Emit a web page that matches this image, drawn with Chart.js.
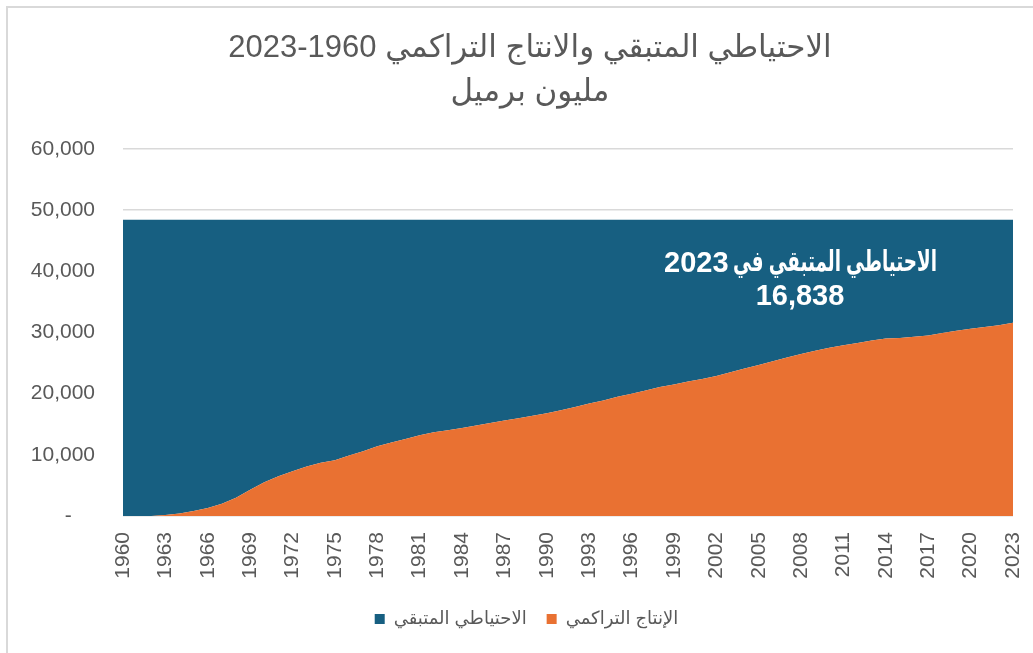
<!DOCTYPE html>
<html>
<head>
<meta charset="utf-8">
<script src="https://cdn.jsdelivr.net/npm/chart.js@4.4.1/dist/chart.umd.min.js"></script>
<style>
  html, body { margin: 0; padding: 0; background: #fff; }
</style>
</head>
<body>
<canvas id="areachart" width="1033" height="653"></canvas>
<script>
const years = [];
for (let y = 1960; y <= 2023; y++) years.push(String(y));

// الإنتاج التراكمي (مليون برميل)
const cumulative = [
  0, 0, 0, 150, 400, 800, 1300, 2000, 3000, 4300,
  5500, 6500, 7300, 8100, 8700, 9100, 9900, 10600, 11400, 12000,
  12600, 13200, 13700, 14000, 14400, 14800, 15200, 15600, 16000, 16400,
  16800, 17300, 17800, 18400, 18900, 19500, 20000, 20500, 21100, 21500,
  22000, 22400, 22900, 23500, 24100, 24700, 25300, 25900, 26500, 27000,
  27500, 27900, 28300, 28700, 29000, 29100, 29300, 29500, 29900, 30300,
  30600, 30900, 31200, 31612
];

// الاحتياطي المتبقي (مليون برميل)
const remaining = [
  48450, 48450, 48450, 48300, 48050, 47650, 47150, 46450, 45450, 44150,
  42950, 41950, 41150, 40350, 39750, 39350, 38550, 37850, 37050, 36450,
  35850, 35250, 34750, 34450, 34050, 33650, 33250, 32850, 32450, 32050,
  31650, 31150, 30650, 30050, 29550, 28950, 28450, 27950, 27350, 26950,
  26450, 26050, 25550, 24950, 24350, 23750, 23150, 22550, 21950, 21450,
  20950, 20550, 20150, 19750, 19450, 19350, 19150, 18950, 18550, 18150,
  17850, 17550, 17250, 16838
];

const titleLines = ['الاحتياطي المتبقي والانتاج التراكمي 1960-2023', 'مليون برميل'];
const noteWords = 'الاحتياطي المتبقي في';
const noteYear = '2023';
const noteValue = '16,838';

const blue = '#175F81';
const orange = '#E97132';
const gray = '#595959';
const font = "'Liberation Sans', Arial, 'DejaVu Sans', sans-serif";

Chart.defaults.font.family = font;
Chart.defaults.color = gray;

// frame, title and the note inside the blue area
const decor = {
    id: 'decor',
    afterLayout(chart) {
        // legend sits a bit right of the canvas centre, as in the original
        chart.legend.left += 20;
        chart.legend.right += 20;
    },
    beforeDraw(chart) {
        const c = chart.ctx;
        c.save();
        c.fillStyle = '#fff';
        c.fillRect(0, 0, chart.width, chart.height);
        c.strokeStyle = '#d9d9d9';
        c.lineWidth = 2;
        c.beginPath();
        c.moveTo(7, chart.height);
        c.lineTo(7, 7);
        c.lineTo(chart.width, 7);
        c.stroke();
        c.restore();
    },
    afterDraw(chart) {
        const c = chart.ctx;
        c.save();
        c.direction = 'rtl';
        c.textAlign = 'center';
        c.textBaseline = 'middle';
        c.fillStyle = gray;
        c.font = '31px ' + font;
        c.fillText(titleLines[0], 530, 48);
        c.fillText(titleLines[1], 530, 92);

        const a = chart.chartArea;
        const cx = a.left + 677;
        c.fillStyle = '#fff';
        c.font = 'bold 29px ' + font;
        c.textAlign = 'right';
        c.fillText(noteWords, cx + 137, 263, 204);
        c.textAlign = 'left';
        c.direction = 'ltr';
        c.fillText(noteYear, cx - 136, 264);
        c.textAlign = 'center';
        c.fillText(noteValue, cx, 297);
        c.restore();
    }
};

const ctx = document.getElementById('areachart').getContext('2d');
const areachart = new Chart(ctx, {
    type: 'line',
    data: {
        labels: years,
        datasets: [{
            label: 'الإنتاج التراكمي',
            data: cumulative,
            backgroundColor: orange,
            borderColor: orange,
            borderWidth: 0,
            pointRadius: 0,
            fill: 'origin'
        }, {
            label: 'الاحتياطي المتبقي',
            data: remaining,
            backgroundColor: blue,
            borderColor: blue,
            borderWidth: 0,
            pointRadius: 0,
            fill: '-1'
        }]
    },
    options: {
        responsive: false,
        animation: false,
        devicePixelRatio: 1,
        layout: { padding: { top: 149, left: 0, right: 20, bottom: 15 } },
        plugins: {
            title: { display: false },
            tooltip: { enabled: false },
            legend: {
                position: 'bottom',
                reverse: true,
                labels: {
                    boxWidth: 10,
                    boxHeight: 10,
                    padding: 20,
                    color: gray,
                    font: { size: 18 }
                }
            }
        },
        scales: {
            x: {
                offset: false,
                grid: { display: false },
                border: { display: false },
                ticks: {
                    autoSkip: false,
                    maxRotation: 90,
                    minRotation: 90,
                    padding: 8,
                    color: gray,
                    font: { size: 21 },
                    callback: function (v, i) {
                        return (i % 3 === 0) ? years[i] : '';
                    }
                },
                afterFit: function (s) {
                    s.height = 74;
                    s.paddingLeft = 0;
                    s.paddingRight = 0;
                }
            },
            y: {
                stacked: true,
                min: 0,
                max: 60000,
                grid: { color: '#d9d9d9', lineWidth: 1.5, drawTicks: false },
                border: { display: false },
                ticks: {
                    stepSize: 10000,
                    padding: 28,
                    color: gray,
                    font: { size: 21 },
                    callback: function (v) {
                        return v === 0 ? '-    ' : v.toLocaleString('en-US');
                    }
                },
                afterFit: function (s) { s.width = 123; }
            }
        }
    },
    plugins: [decor]
});
</script>
</body>
</html>
